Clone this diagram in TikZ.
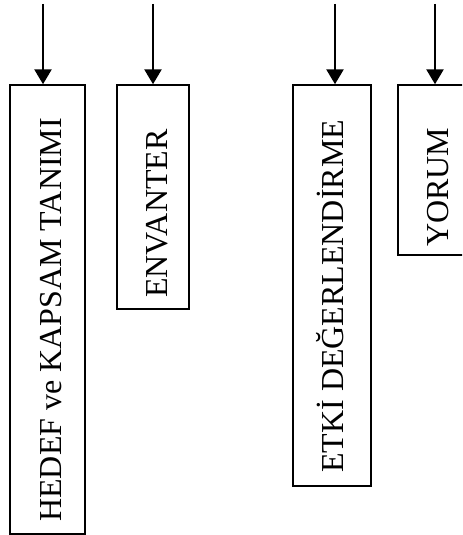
\documentclass[tikz,border=0pt]{standalone}
\usepackage{fontspec}
\setmainfont{Liberation Serif}
\usetikzlibrary{arrows.meta}
\begin{document}
\begin{tikzpicture}[x=0.75pt,y=-0.75pt,
  stagebox/.style={draw, line width=1.1pt, inner sep=0pt, rectangle},
  lbl/.style={rotate=90, anchor=base west, inner sep=0pt, font=\fontsize{24pt}{28pt}\selectfont},
  feed/.style={line width=2pt, -{Triangle[length=11.25pt,width=12.75pt]}}]
\useasboundingbox (0,0) rectangle (462,535);
\clip (0,0) rectangle (462,535);
% boxes
\node[stagebox, minimum width=56.25pt, minimum height=336.75pt] (b1) at (47.5,309.5) {};
\node[stagebox, minimum width=54pt, minimum height=168pt] (b2) at (153,197) {};
\node[stagebox, minimum width=58.5pt, minimum height=300.75pt] (b3) at (332,285.5) {};
\node[stagebox, minimum width=55.5pt, minimum height=127.5pt] (b4) at (435,170) {};
% labels
\node[lbl] (t1) at (61.5,522) {HEDEF ve KAPSAM TANIMI};
\node[lbl] (t2) at (167,298) {ENVANTER};
\node[lbl] (t3) at (343.5,473) {ETKİ DEĞERLENDİRME};
\node[lbl] (t4) at (448.5,247) {YORUM};
% arrows
\coordinate (a1) at (43,4);
\coordinate (a2) at (153,4);
\coordinate (a3) at (335,4);
\coordinate (a4) at (435,4);
\draw[feed] (a1) -- (a1 |- b1.north);
\draw[feed] (a2) -- (a2 |- b2.north);
\draw[feed] (a3) -- (a3 |- b3.north);
\draw[feed] (a4) -- (a4 |- b4.north);
\end{tikzpicture}
\end{document}
